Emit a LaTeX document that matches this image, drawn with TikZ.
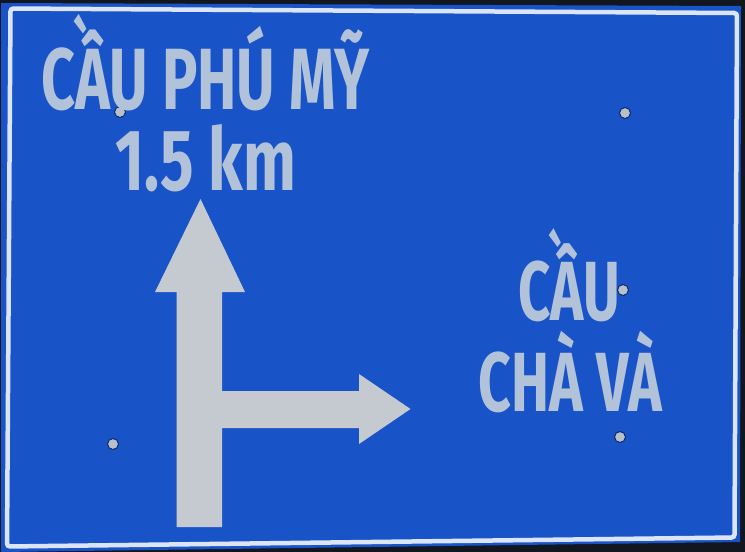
\documentclass[tikz,border=0pt]{standalone}
\usepackage{fontspec}
\newfontfamily\signfont{Fira Sans}
\definecolor{signblue}{RGB}{24,84,200}
\definecolor{signtext}{RGB}{178,194,216}
\definecolor{arrowgrey}{RGB}{196,202,208}
\definecolor{boltgrey}{RGB}{185,192,205}
\definecolor{edgedark}{RGB}{18,22,30}
\tikzset{
  signlabel/.style={inner sep=0pt, anchor=base, text=signtext},
  bolt/.style={circle, fill=boltgrey, draw=signblue!50!black, line width=1pt, minimum size=11pt, inner sep=0pt},
}
\begin{document}
\begin{tikzpicture}[x=1pt,y=-1pt]
\useasboundingbox (0,0) rectangle (745,552);
% backdrop and sign plate
\fill[edgedark] (0,0) rectangle (745,552);
\fill[signblue] (1,3) -- (741,6) -- (740,542) -- (1,552) -- cycle;
\draw[white!85!signblue, line width=4.5pt, rounded corners=3pt]
  (10.5,8.5) -- (737,13) -- (734.5,537.5) -- (7,546.5) -- cycle;
% arrow
\fill[arrowgrey] (200.5,199) -- (245,292) -- (222,292) -- (222,391) -- (359,391)
  -- (359,374) -- (410.5,409) -- (359,444) -- (359,428) -- (222,428) -- (222,527)
  -- (176.5,527) -- (176.5,292) -- (155,292) -- cycle;
% bolts
\node[bolt] (b1) at (120,112) {};
\node[bolt] (b2) at (625,113) {};
\node[bolt] (b3) at (623,290) {};
\node[bolt] (b4) at (113,444) {};
\node[bolt] (b5) at (620,437) {};
% texts
\node[signlabel] (t1) at (205.5,109.5)
  {\scalebox{0.679}[1]{\signfont\bfseries\fontsize{87}{87}\selectfont CẦU PHÚ MỸ}};
\node[signlabel] (t2) at (206,190)
  {\scalebox{0.719}[1]{\signfont\bfseries\fontsize{87}{87}\selectfont 1.5 km}};
\node[signlabel] (t3) at (569,320)
  {\scalebox{0.67}[1]{\signfont\bfseries\fontsize{84}{84}\selectfont CẦU}};
\node[signlabel] (t4) at (570.5,411.5)
  {\scalebox{0.68}[1]{\signfont\bfseries\fontsize{84}{84}\selectfont CHÀ VÀ}};
\end{tikzpicture}
\end{document}
